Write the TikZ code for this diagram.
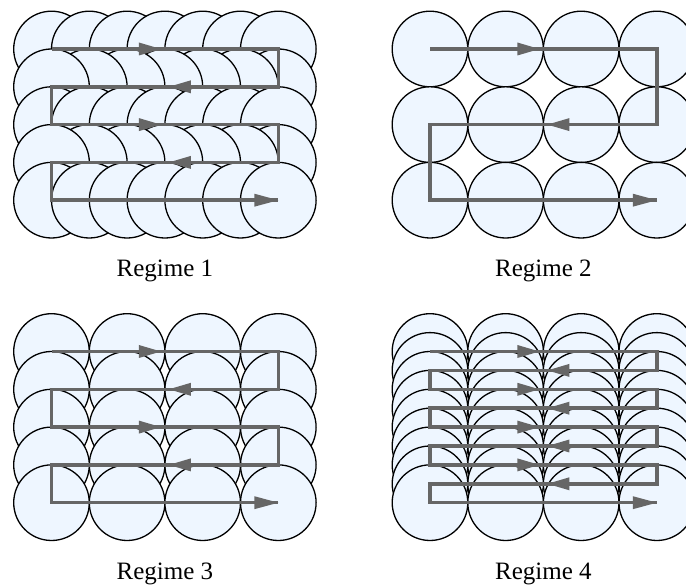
\documentclass[tikz,border=0pt]{standalone}
\usepackage{fontspec}
\setmainfont{Liberation Serif}
\definecolor{cfill}{RGB}{238,246,255}
\definecolor{pathcol}{RGB}{102,102,102}
\tikzset{
  disc/.style={fill=cfill,draw=black,line width=1.3pt},
  scanline/.style={draw=pathcol,line width=3.5pt,line join=miter},
  arrowhd/.style={fill=pathcol},
  lbl/.style={font=\fontsize{25}{30}\selectfont,anchor=base,inner sep=0pt}
}
\def\R{37.8}
% #1 x0, #2 y0, #3 ncols, #4 nrows, #5 dx, #6 dy
\newcommand\myregime[6]{%
  \pgfmathtruncatemacro\lastc{#3-1}%
  \pgfmathtruncatemacro\lastr{#4-1}%
  \pgfmathtruncatemacro\lastrm{#4-2}%
  \pgfmathsetmacro\W{(#3-1)*#5}%
  \foreach \ri in {0,...,\lastr}{%
    \foreach \ci in {0,...,\lastc}{%
      \pgfmathtruncatemacro\cc{mod(\ri,2)==0 ? \ci : \lastc-\ci}%
      \path[disc] ({#1+\cc*#5},{#2+\ri*#6}) circle[radius=\R];
    }%
  }%
  \draw[scanline] (#1,#2)
    \foreach \ri in {0,...,\lastrm}{
      -- ({#1+(1-mod(\ri,2))*\W},{#2+\ri*#6})
      -- ({#1+(1-mod(\ri,2))*\W},{#2+(\ri+1)*#6})
    }
    -- ({#1+\W},{#2+\lastr*#6});
  \foreach \ri in {0,...,\lastrm}{%
    \pgfmathsetmacro\dd{mod(\ri,2)==0 ? 1 : -1}%
    \pgfmathsetmacro\tipx{#1+\W/2-4*\dd}%
    \pgfmathsetmacro\basex{\tipx-22*\dd}%
    \pgfmathsetmacro\yy{#2+\ri*#6}%
    \fill[arrowhd] (\tipx,\yy) -- (\basex,\yy-6.5) -- (\basex,\yy+6.5) -- cycle;
  }%
  \pgfmathsetmacro\tipx{#1+\W}%
  \pgfmathsetmacro\yy{#2+\lastr*#6}%
  \fill[arrowhd] (\tipx,\yy) -- (\tipx-24,\yy-6.5) -- (\tipx-24,\yy+6.5) -- cycle;
}
\begin{document}
\begin{tikzpicture}[x=1pt,y=-1pt]
\useasboundingbox (0,0) rectangle (686,585);
\clip (0,0) rectangle (686,585);
\myregime{51.5}{49}{7}{5}{\R}{\R}
\myregime{430}{49}{4}{3}{2*\R}{2*\R}
\myregime{51.5}{351.5}{4}{5}{2*\R}{\R}
\myregime{430}{351.5}{4}{9}{2*\R}{\R/2}
\node[lbl] (l1) at (164.9,276.7) {Regime 1};
\node[lbl] (l2) at (543.4,276.7) {Regime 2};
\node[lbl] (l3) at (164.9,579) {Regime 3};
\node[lbl] (l4) at (543.4,579) {Regime 4};
\end{tikzpicture}
\end{document}
